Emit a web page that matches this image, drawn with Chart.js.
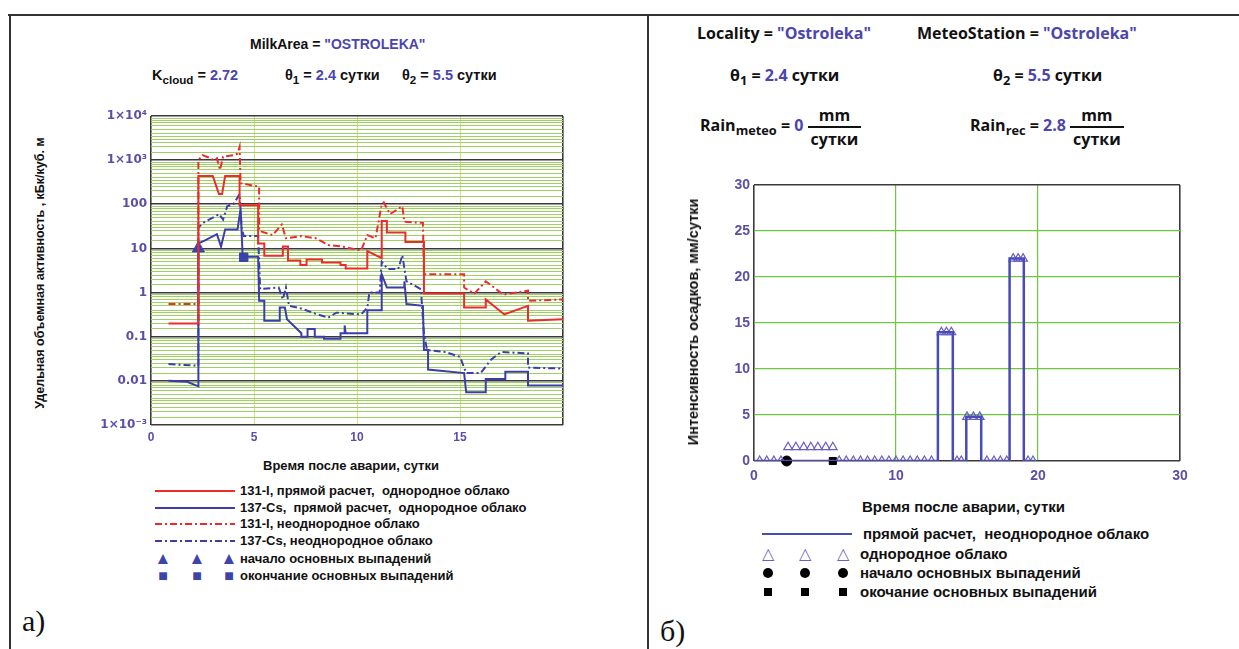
<!DOCTYPE html>
<html>
<head>
<meta charset="utf-8">
<script src="https://cdn.jsdelivr.net/npm/chart.js@4.4.1/dist/chart.umd.min.js"></script>
<style>
  body { margin: 0; background: #fff; }
  #page { position: relative; width: 1239px; height: 649px; overflow: hidden; background: #fff;
          font-family: "Liberation Sans", Arial, sans-serif; color: #111; }
  .abs { position: absolute; white-space: nowrap; }
  .hl { font-weight: bold; font-size: 14px; }
  .hr { font-family: "Open Sans", Lato, sans-serif; font-weight: bold; font-size: 16px; }
  .v { color: #4b46ae; }
  sub { font-size: 80%; vertical-align: -4px; line-height: 0; }
  .frac { display: inline-block; vertical-align: middle; text-align: center; line-height: 22px; }
  .frac span { display: block; padding: 0 3px; }
  .frac span:first-child { border-bottom: 2px solid #111; }
  .rot { transform: translate(-50%, -50%) rotate(-90deg); font-weight: bold; }
  .lg { font-weight: bold; font-size: 13px; line-height: 14px; }
  .lgr { font-weight: bold; font-size: 15px; line-height: 16px; }
  .line { position: absolute; background: #333; }
  .mk { position: absolute; transform: translate(-50%, -50%); line-height: 1; }
  .dot { position: absolute; width: 10px; height: 10px; border-radius: 50%; background: #000; transform: translate(-50%, -50%); }
  .sq { position: absolute; width: 8px; height: 8px; background: #000; transform: translate(-50%, -50%); }
</style>
</head>
<body>
<div id="page">
  <!-- frame -->
  <div class="line" style="left:8px;top:14px;width:1231px;height:2px"></div>
  <div class="line" style="left:9px;top:14px;width:2px;height:635px"></div>
  <div class="line" style="left:647px;top:14px;width:2px;height:635px"></div>

  <!-- left header -->
  <div class="abs hl" style="left:250px;top:36px">MilkArea = <span class="v">"OSTROLEKA"</span></div>
  <div class="abs hl" style="left:152px;top:67px;font-size:14.5px">K<sub>cloud</sub> = <span class="v">2.72</span></div>
  <div class="abs hl" style="left:285px;top:67px;font-size:14.5px">θ<sub>1</sub> = <span class="v">2.4</span> сутки</div>
  <div class="abs hl" style="left:402px;top:67px;font-size:14.5px">θ<sub>2</sub> = <span class="v">5.5</span> сутки</div>

  <!-- right header -->
  <div class="abs hr" style="left:697px;top:22px">Locality = <span class="v">"Ostroleka"</span></div>
  <div class="abs hr" style="left:917px;top:22px">MeteoStation = <span class="v">"Ostroleka"</span></div>
  <div class="abs hr" style="left:730px;top:64px">θ<sub>1</sub> = <span class="v">2.4</span> сутки</div>
  <div class="abs hr" style="left:993px;top:64px">θ<sub>2</sub> = <span class="v">5.5</span> сутки</div>
  <div class="abs hr" style="left:700px;top:104px">Rain<sub>meteo</sub> = <span class="v">0</span> <span class="frac"><span>mm</span><span>сутки</span></span></div>
  <div class="abs hr" style="left:970px;top:104px">Rain<sub>rec</sub> = <span class="v">2.8</span> <span class="frac"><span>mm</span><span>сутки</span></span></div>

  <!-- charts -->
  <canvas id="left" class="abs" width="480" height="345" style="left:100px;top:100px"></canvas>
  <canvas id="right" class="abs" width="500" height="310" style="left:700px;top:170px"></canvas>

  <!-- axis titles -->
  <div class="abs rot" style="left:40px;top:273px;font-size:12.5px">Удельная объемная активность , кБк/куб. м</div>
  <div class="abs hl" style="left:263px;top:458px;font-size:13px">Время после аварии, сутки</div>
  <div class="abs rot" style="left:693px;top:322px;font-size:14.5px">Интенсивность осадков, мм/сутки</div>
  <div class="abs" style="left:862px;top:498px;font-size:15px;font-weight:bold">Время после аварии, сутки</div>

  <!-- left legend -->
  <svg class="abs" style="left:155px;top:484px" width="82" height="100">
    <line x1="0" y1="7" x2="80" y2="7" stroke="#ee2b2b" stroke-width="2"/>
    <line x1="0" y1="24" x2="80" y2="24" stroke="#3c3caa" stroke-width="2"/>
    <line x1="0" y1="40" x2="80" y2="40" stroke="#ee2b2b" stroke-width="2" stroke-dasharray="7 3 2 3"/>
    <line x1="0" y1="57" x2="80" y2="57" stroke="#3c3caa" stroke-width="2" stroke-dasharray="7 3 2 3"/>
  </svg>
  <div class="abs lg" style="left:240px;top:484px">131-I, прямой расчет,&nbsp; однородное облако</div>
  <div class="abs lg" style="left:240px;top:501px">137-Cs,&nbsp; прямой расчет,&nbsp; однородное облако</div>
  <div class="abs lg" style="left:240px;top:517px">131-I, неоднородное облако</div>
  <div class="abs lg" style="left:240px;top:534px">137-Cs, неоднородное облако</div>
  <div class="mk" style="left:163px;top:558px;color:#3b44a8;font-size:17px">▲</div>
  <div class="mk" style="left:197px;top:558px;color:#3b44a8;font-size:17px">▲</div>
  <div class="mk" style="left:229px;top:558px;color:#3b44a8;font-size:17px">▲</div>
  <div class="abs lg" style="left:240px;top:552px">начало основных выпадений</div>
  <div class="mk" style="left:163px;top:576px;color:#3b44a8;font-size:16px">■</div>
  <div class="mk" style="left:197px;top:576px;color:#3b44a8;font-size:16px">■</div>
  <div class="mk" style="left:229px;top:576px;color:#3b44a8;font-size:16px">■</div>
  <div class="abs lg" style="left:240px;top:569px">окончание основных выпадений</div>

  <!-- right legend -->
  <svg class="abs" style="left:762px;top:530px" width="92" height="8">
    <line x1="0" y1="4" x2="90" y2="4" stroke="#4a4ab8" stroke-width="2"/>
  </svg>
  <div class="abs lgr" style="left:863px;top:526px">прямой расчет,&nbsp; неоднородное облако</div>
  <div class="mk" style="left:768px;top:554px;color:#6a5fc4;font-size:16px">△</div>
  <div class="mk" style="left:805px;top:554px;color:#6a5fc4;font-size:16px">△</div>
  <div class="mk" style="left:843px;top:554px;color:#6a5fc4;font-size:16px">△</div>
  <div class="abs lgr" style="left:860px;top:546px">однородное облако</div>
  <div class="dot" style="left:768px;top:573px"></div>
  <div class="dot" style="left:805px;top:573px"></div>
  <div class="dot" style="left:843px;top:573px"></div>
  <div class="abs lgr" style="left:860px;top:565px">начало основных выпадений</div>
  <div class="sq" style="left:768px;top:592px"></div>
  <div class="sq" style="left:805px;top:592px"></div>
  <div class="sq" style="left:843px;top:592px"></div>
  <div class="abs lgr" style="left:860px;top:584px">окочание основных выпадений</div>

  <!-- panel labels -->
  <div class="abs" style="left:22px;top:604px;font-family:'Liberation Serif',serif;font-size:30px">а)</div>
  <div class="abs" style="left:660px;top:614px;font-family:'Liberation Serif',serif;font-size:30px">б)</div>
</div>

<script>
// --- panel a: specific volume activity, [days, kBq/m3]
const i131Direct = [[0.85,0.2],[2.3,0.2],[2.3,440],[3.0,440],[3.3,170],[3.45,170],[3.6,440],[4.3,440],[4.3,95],[5.2,95],[5.2,13],[5.5,13],[5.5,6.8],[6.4,6.8],[6.4,11],[6.65,11],[6.65,5.3],[7.25,5.3],[7.25,4.2],[7.55,4.2],[7.55,5.6],[8.3,5.6],[8.3,4.8],[9.2,4.8],[9.2,4.2],[9.45,4.2],[9.45,3.5],[10.5,3.5],[10.5,8.7],[11.2,6],[11.2,42],[11.45,42],[11.45,23],[12.35,23],[12.35,14],[13.25,14],[13.25,0.95],[15.2,0.95],[15.2,0.46],[16.25,0.46],[16.25,0.7],[17.15,0.32],[18.3,0.5],[18.3,0.23],[20,0.25]];
const cs137Direct = [[0.85,0.01],[1.75,0.0095],[2.3,0.0075],[2.3,13],[2.6,15],[3.2,21],[3.4,11],[3.6,27],[4.2,27],[4.35,80],[4.45,6.5],[5.2,6.5],[5.25,0.65],[5.5,0.65],[5.5,0.23],[6.25,0.23],[6.25,0.46],[6.5,0.46],[6.6,0.25],[7.3,0.12],[7.3,0.1],[7.6,0.1],[7.6,0.15],[7.95,0.15],[7.95,0.1],[8.4,0.1],[8.4,0.09],[9.2,0.09],[9.2,0.12],[9.4,0.12],[9.4,0.18],[9.45,0.12],[10.5,0.12],[10.5,0.4],[11.2,0.4],[11.2,2.6],[11.45,1.3],[12.3,1.3],[12.3,1.8],[12.4,0.55],[13.2,0.5],[13.25,0.05],[13.45,0.05],[13.45,0.018],[15.2,0.015],[15.3,0.0055],[16.25,0.0055],[16.25,0.011],[17.2,0.011],[17.2,0.016],[18.3,0.016],[18.3,0.0078],[20,0.0078]];
const i131Hetero = [[0.85,0.55],[2.3,0.55],[2.3,1000],[2.5,1300],[2.8,1150],[3.05,1000],[3.2,1100],[3.35,600],[3.5,1200],[4.0,1300],[4.2,1400],[4.3,2000],[4.35,300],[5.25,250],[5.25,25],[5.9,20],[6.35,35],[6.55,17],[7.3,19],[8.0,17],[8.6,12],[9.3,11],[10.2,9],[10.5,20],[10.9,17],[11.2,100],[11.3,110],[11.6,60],[12.2,90],[12.3,40],[13.2,38],[13.25,2.6],[15.2,2.6],[15.2,1.3],[15.7,0.95],[16.25,1.8],[17.1,0.9],[18.3,1.1],[18.3,0.65],[20,0.7]];
const cs137Hetero = [[0.85,0.024],[2.3,0.022],[2.3,30],[2.6,40],[3.0,50],[3.3,60],[3.5,45],[3.7,90],[4.0,100],[4.3,170],[4.4,30],[4.5,19],[5.2,19],[5.3,1.2],[6.2,1.3],[6.4,0.7],[6.55,1.3],[6.7,0.5],[7.2,0.45],[8.0,0.33],[8.6,0.27],[9.0,0.35],[10.2,0.32],[10.5,0.45],[10.6,1.0],[11.1,1.0],[11.2,5],[11.5,3.4],[12.0,3.4],[12.2,7],[12.4,1.8],[13.1,1.2],[13.25,0.12],[13.4,0.05],[14.3,0.045],[15.0,0.035],[15.3,0.015],[16.0,0.015],[16.5,0.03],[17.0,0.045],[18.3,0.042],[18.3,0.02],[20,0.019]];
const depoStartA = [[2.3,10]];
const depoEndA = [[4.5,6.3]];
const activityTicks = [0.001,0.01,0.1,1,10,100,1000,10000];
const activityTickLabels = ['1×10⁻³','0.01','0.1','1','10','100','1×10³','1×10⁴'];
const minorSteps = [1.5,2,2.5,3,3.5,4,5,6,7,8,9];

// --- panel b: precipitation intensity, [days, mm/day]
const rainDirect = [[0,0],[12.95,0],[12.95,14],[14.0,14],[14.0,0],[14.95,0],[14.95,4.8],[16.0,4.8],[16.0,0],[18.0,0],[18.0,22],[19.0,22],[19.0,0],[19.8,0]];
const rainHomog = [[0.4,0],[0.9,0],[1.4,0],[1.9,0],[2.4,1.5],[2.95,1.5],[3.5,1.5],[4.0,1.5],[4.5,1.5],[5.05,1.5],[5.55,1.5],[6.0,0],[6.5,0],[7.0,0],[7.5,0],[8.0,0],[8.5,0],[9.0,0],[9.5,0],[10.0,0],[10.5,0],[11.0,0],[11.5,0],[12.0,0],[12.5,0],[13.2,14],[13.55,14],[13.9,14],[14.3,0],[14.6,0],[15.0,4.8],[15.45,4.8],[15.9,4.8],[16.4,0],[16.9,0],[17.35,0],[17.8,0],[18.25,22],[18.6,22],[18.95,22],[19.3,0],[19.65,0]];
const rainStart = [[2.3,0]];
const rainEnd = [[5.55,0]];

const RED = "#ee2b2b";
const BLUE = "#3c3caa";
const TICK = "#5a4fa8";
const FRAME = "#3a3a3a";

const pts = (list) => list.map(([x, y]) => ({ x, y }));
const isDecade = (v) => Math.abs(Math.log10(v) - Math.round(Math.log10(v))) < 1e-6;

new Chart(document.getElementById("left"), {
  type: "line",
  data: {
    datasets: [
      { data: pts(i131Direct), borderColor: RED, borderWidth: 2 },
      { data: pts(cs137Direct), borderColor: BLUE, borderWidth: 2 },
      { data: pts(i131Hetero), borderColor: RED, borderWidth: 2, borderDash: [7, 3, 2, 3] },
      { data: pts(cs137Hetero), borderColor: BLUE, borderWidth: 2, borderDash: [7, 3, 2, 3] },
      { data: pts(depoStartA), showLine: false, pointStyle: "triangle", pointRadius: 7, backgroundColor: "#3b44a8", borderColor: "#3b44a8" },
      { data: pts(depoEndA), showLine: false, pointStyle: "rect", pointRadius: 6, backgroundColor: "#3b44a8", borderColor: "#3b44a8" }
    ]
  },
  options: {
    responsive: false,
    animation: false,
    events: [],
    layout: { padding: { top: 16, right: 17, left: 0, bottom: 0 } },
    elements: { point: { radius: 0 }, line: { tension: 0, fill: false } },
    plugins: { legend: { display: false }, tooltip: { enabled: false } },
    scales: {
      x: {
        type: "linear", min: 0, max: 20,
        afterFit: (s) => { s.height = 20; },
        border: { display: false },
        grid: {
          drawTicks: false,
          color: (c) => (c.tick.value === 0 || c.tick.value === 20 ? FRAME : "#cfe27e"),
          lineWidth: (c) => (c.tick.value === 0 || c.tick.value === 20 ? 1.6 : 1)
        },
        ticks: {
          stepSize: 5, padding: 5, color: TICK,
          font: { family: "Liberation Sans", size: 12, weight: "bold" },
          callback: (v) => (v === 20 ? "" : v)
        }
      },
      y: {
        type: "logarithmic", min: 0.001, max: 10000,
        afterFit: (s) => { s.width = 51; },
        afterBuildTicks: (s) => {
          const ticks = [];
          activityTicks.forEach((d, i) => {
            ticks.push({ value: d });
            if (i < activityTicks.length - 1) minorSteps.forEach((m) => ticks.push({ value: d * m }));
          });
          s.ticks = ticks;
        },
        border: { display: false },
        grid: {
          drawTicks: false,
          color: (c) => (isDecade(c.tick.value) ? FRAME : "#9fd064"),
          lineWidth: (c) => (isDecade(c.tick.value) ? 1.6 : 1)
        },
        ticks: {
          autoSkip: false, padding: 4, color: TICK,
          font: { family: "DejaVu Sans", size: 12, weight: "bold" },
          callback: (v) => {
            const i = activityTicks.findIndex((t) => Math.abs(t - v) / t < 1e-6);
            return i >= 0 ? activityTickLabels[i] : "";
          }
        }
      }
    }
  }
});

new Chart(document.getElementById("right"), {
  type: "line",
  data: {
    datasets: [
      { data: pts(rainDirect), borderColor: "#4a4ab8", borderWidth: 2.5 },
      { data: pts(rainHomog), showLine: false, pointStyle: "triangle", pointRadius: 5, backgroundColor: "rgba(255,255,255,0)", borderColor: "#6a5fc4", borderWidth: 1.2 },
      { data: pts(rainStart), showLine: false, pointStyle: "circle", pointRadius: 5, backgroundColor: "#000", borderColor: "#000", clip: false },
      { data: pts(rainEnd), showLine: false, pointStyle: "rect", pointRadius: 5, backgroundColor: "#000", borderColor: "#000", clip: false }
    ]
  },
  options: {
    responsive: false,
    animation: false,
    events: [],
    layout: { padding: { top: 15, right: 20, left: 0, bottom: 0 } },
    elements: { point: { radius: 0 }, line: { tension: 0, fill: false } },
    plugins: { legend: { display: false }, tooltip: { enabled: false } },
    scales: {
      x: {
        type: "linear", min: 0, max: 30,
        afterFit: (s) => { s.height = 19; },
        border: { display: false },
        grid: {
          drawTicks: false,
          color: (c) => (c.tick.value === 0 || c.tick.value === 30 ? FRAME : "#6cc83c"),
          lineWidth: (c) => (c.tick.value === 0 || c.tick.value === 30 ? 1.6 : 1.2)
        },
        ticks: { stepSize: 10, padding: 7, color: TICK, font: { family: "Liberation Sans", size: 14, weight: "bold" } }
      },
      y: {
        type: "linear", min: 0, max: 30,
        afterFit: (s) => { s.width = 54; },
        border: { display: false },
        grid: {
          drawTicks: false,
          color: (c) => (c.tick.value === 0 || c.tick.value === 30 ? FRAME : "#6cc83c"),
          lineWidth: (c) => (c.tick.value === 0 || c.tick.value === 30 ? 1.6 : 1.2)
        },
        ticks: { stepSize: 5, padding: 4, color: TICK, font: { family: "Liberation Sans", size: 14, weight: "bold" } }
      }
    }
  }
});
</script>
</body>
</html>
